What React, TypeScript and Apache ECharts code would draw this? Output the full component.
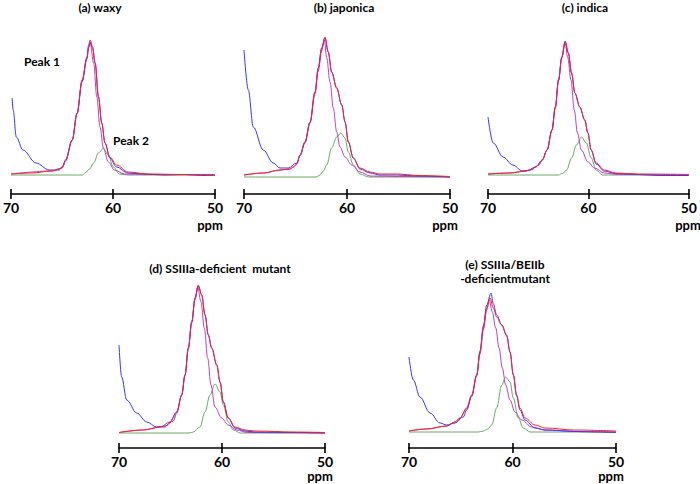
import React, { useEffect, useRef } from "react";
import * as echarts from "echarts";

// ---- data: [ppm, intensity] ----
const aBlue = [[69.9,77],[69.8,65],[69.49,38],[68.84,25],[67.56,12],[66.26,5],[65.3,5],[64.9,9],[64.66,14],[64.01,35],[63.53,62],[63.04,94],[62.56,117],[62.4,128],[62.24,133],[62.01,127],[61.76,112],[61.43,78],[61.11,52],[60.79,32],[60.31,17],[59.66,8],[58.53,2],[57,1],[55,0],[53,0.5],[51,-0.5],[50,0]];
const aRed = [[70,1],[68,2],[66,4],[65,7],[64.66,15],[64.01,35],[63.53,62],[63.04,95],[62.56,118],[62.4,130],[62.24,135],[62.01,128],[61.76,112],[61.43,78],[61.11,52],[60.79,32],[60.31,18],[59.66,10],[58.53,3],[56.6,1],[53,0.5],[50,0]];
const aMagenta = [[70,1],[66,4],[65,7],[64.66,15],[64.01,35],[63.53,61],[63.04,93],[62.56,116],[62.4,127],[62.24,132],[61.91,112],[61.59,78],[61.28,48],[60.95,27],[60.46,13],[59.86,5],[58.89,1],[56,0.5],[50,0]];
const aGreen = [[70,0],[63,0],[62.75,2],[62.3,6],[61.91,12],[61.43,22],[60.95,26.7],[60.46,20],[59.98,8],[59.37,1],[58.5,0],[50,0]];

const bBlue = [[70,127],[69.58,87],[69.1,50],[68.13,27],[67.16,14],[66.5,9],[65.7,9],[64.88,14],[64.56,22],[64.08,35],[63.59,55],[63.11,85],[62.79,109],[62.46,129],[62.14,139],[61.82,125],[61.49,105],[61.0,89],[60.51,72],[60.19,55],[59.87,35],[59.39,19],[58.74,8],[57.77,4],[56.8,2],[55.2,2],[53,1],[50,0]];
const bRed = [[70,2],[68.1,4],[66.5,7],[65.53,8],[65.21,10],[64.88,13],[64.56,22],[64.08,35],[63.59,55],[63.11,85],[62.79,109],[62.46,129],[62.14,140],[61.82,125],[61.49,105],[61.0,89],[60.51,72],[60.19,55],[59.87,35],[59.39,19],[58.74,9],[57.77,5],[56.8,3],[55.2,3],[53,1.5],[50,0.5]];
const bMagenta = [[70,2],[68.1,4],[66.5,7],[65.53,8],[65.21,10],[64.88,13],[64.56,21],[64.08,34],[63.59,54],[63.11,83],[62.79,106],[62.46,126],[62.2,137],[61.97,119],[61.65,95],[61.33,69],[61.0,45],[60.68,30],[60.19,20],[59.54,12],[58.74,5],[57.77,1],[55,0.5],[50,0]];
const bGreen = [[70,0],[63,0],[62.62,2],[62.3,6],[61.97,12],[61.49,29],[61.0,40],[60.61,44],[60.19,39],[59.87,25],[59.39,12],[58.74,3],[57.9,0],[50,0]];

const cBlue = [[70,58],[69.48,32],[68.5,18],[67.53,10],[66.56,4],[65.74,5],[64.93,10],[64.6,15],[64.12,25],[63.63,45],[63.3,68],[62.98,95],[62.65,118],[62.32,134],[62.0,122],[61.68,102],[61.35,82],[60.86,68],[60.37,55],[60.05,42],[59.73,25],[59.24,11],[58.42,4],[57.29,1.5],[55,0.5],[53,-0.5],[50,-0.5]];
const cRed = [[70,1],[67.85,2],[66.2,4],[65.9,5],[65.25,8],[64.6,15],[64.12,25],[63.63,45],[63.3,68],[62.98,95],[62.65,118],[62.32,133],[62.0,122],[61.68,102],[61.35,82],[60.86,68],[60.37,55],[60.05,42],[59.73,25],[59.24,12],[58.42,5],[57.29,2],[55,1],[50,0.5]];
const cMagenta = [[70,1],[67.85,2],[66.2,4],[65.25,8],[64.6,15],[64.12,25],[63.63,45],[63.3,67],[62.98,94],[62.65,117],[62.32,132],[62.07,118],[61.74,95],[61.41,65],[61.09,42],[60.7,25],[60.05,13],[59.4,7],[58.42,2],[57,0.5],[50,0]];
const cGreen = [[70,0],[63,0],[62.6,1.5],[62.17,5],[61.68,17],[61.19,30],[60.7,38],[60.21,32],[59.73,17],[59.24,5],[58.6,0],[50,0]];

const dBlue = [[70,88],[69.74,56],[69.25,33],[68.28,20],[67.31,11],[66.34,6],[65.53,7],[64.73,12],[64.4,20],[63.91,38],[63.59,58],[63.27,85],[62.94,111],[62.62,135],[62.3,147],[61.97,138],[61.65,118],[61.33,98],[61.0,85],[60.51,68],[60.19,51],[59.87,31],[59.39,15],[58.74,5],[57.77,2],[56.8,1],[53,0.5],[50,0]];
const dRed = [[70,0.5],[67.64,3],[66.0,6],[65.53,6],[65.05,11],[64.4,21],[63.91,38],[63.59,58],[63.27,85],[62.94,111],[62.62,135],[62.3,148],[61.97,138],[61.65,118],[61.33,98],[61.0,85],[60.51,68],[60.19,51],[59.87,31],[59.39,15],[58.74,6],[57.77,3],[56.8,2],[53,1],[50,0.5]];
const dMagenta = [[70,0.5],[67.64,3],[66,6],[65.05,11],[64.4,21],[63.91,38],[63.59,58],[63.27,84],[62.94,110],[62.62,133],[62.36,146],[62.04,131],[61.72,105],[61.39,75],[61.07,48],[60.68,26],[60.03,15],[59.39,8],[58.57,3],[57.5,0.5],[50,0]];
const dGreen = [[70,0],[63.2,0],[62.79,1],[62.14,6],[61.65,21],[61.17,38],[60.68,49],[60.19,41],[59.87,28],[59.39,11],[58.9,3],[58.2,0],[50,0]];

const eBlue = [[70,75],[69.58,52],[68.94,35],[67.97,19],[67.0,9],[66.36,7],[65.56,9],[64.75,15],[64.43,22],[63.94,36],[63.46,57],[63.14,81],[62.82,106],[62.49,127],[62.08,139],[61.85,128],[61.53,117],[61.04,107],[60.56,96],[60.24,80],[59.92,57],[59.6,36],[59.28,22],[58.79,12],[57.83,4],[56.86,2],[54,0.5],[52,0],[50,-0.5]];
const eRed = [[70,1],[68.3,3],[66.36,6],[65.56,10],[65.07,14],[64.43,24],[63.94,37],[63.46,57],[63.14,80],[62.82,104],[62.49,124],[62.17,134],[61.85,124],[61.53,115],[61.04,107],[60.56,97],[60.24,80],[59.92,57],[59.6,37],[59.28,24],[58.79,14],[57.83,7],[56.86,4],[54,2],[50,1]];
const eMagenta = [[70,1],[68.3,3],[66.36,6],[65.56,10],[65.07,14],[64.43,23],[63.94,36],[63.46,56],[63.14,78],[62.82,102],[62.49,122],[62.24,132],[61.95,120],[61.62,104],[61.3,84],[60.98,64],[60.66,47],[60.24,32],[59.76,20],[59.11,12],[58.14,5],[56.86,2],[53,0.5],[50,0]];
const eGreen = [[70,0],[63.3,0],[62.82,1],[62.4,3],[62.01,7],[61.53,24],[61.04,47],[60.66,55],[60.24,50],[59.92,34],[59.44,14],[58.96,4],[58.3,0],[50,0]];

const panelTitles = [["(a) waxy"], ["(b) japonica"], ["(c) indica"], ["(d) SSIIIa-deficient  mutant"], ["(e) SSIIIa/BEIIb", "-deficientmutant"]];
const tickLabels = [70, 60, 50];
const xUnit = "ppm";
const peakLabels = ["Peak 1", "Peak 2"];

const panelData = [
  { blue: aBlue, red: aRed, magenta: aMagenta, green: aGreen },
  { blue: bBlue, red: bRed, magenta: bMagenta, green: bGreen },
  { blue: cBlue, red: cRed, magenta: cMagenta, green: cGreen },
  { blue: dBlue, red: dRed, magenta: dMagenta, green: dGreen },
  { blue: eBlue, red: eRed, magenta: eMagenta, green: eGreen },
];

// layout (pixels)
const layout = [
  { left: 8, width: 207, base: 175, axisY: 194, titleX: 100, titleY: 7, unitY: 225 },
  { left: 244, width: 206, base: 177, axisY: 194, titleX: 344, titleY: 7, unitY: 225 },
  { left: 488, width: 205, base: 175, axisY: 194, titleX: 585, titleY: 7, unitY: 225 },
  { left: 119, width: 206, base: 433, axisY: 448, titleX: 220, titleY: 268, unitY: 476 },
  { left: 409, width: 207, base: 432, axisY: 448, titleX: 505, titleY: 264, unitY: 476 },
];

const FONT = "Lato, 'Open Sans', sans-serif";
const COLORS = { blue: "#3535ff", red: "#ff2020", magenta: "#c43cc4", green: "#68a868" };
const H = 160;

export default function App() {
  const ref = useRef<HTMLDivElement>(null);
  useEffect(() => {
    if (!ref.current) return;
    const chart = echarts.init(ref.current, undefined, { renderer: "svg" });
    const grid: any[] = [];
    const xAxis: any[] = [];
    const yAxis: any[] = [];
    const series: any[] = [];
    const graphic: any[] = [];
    layout.forEach((l, i) => {
      grid.push({ left: l.left, width: l.width, top: l.base - H, height: H });
      const off = l.axisY - l.base;
      const common = {
        type: "value", gridIndex: i, min: 50, max: 70, interval: 10, inverse: true,
        position: "bottom", offset: off, splitLine: { show: false },
      };
      xAxis.push({
        ...common,
        axisLine: { show: true, onZero: false, lineStyle: { color: "#000", width: 1.6 } },
        axisTick: { show: true, length: 5, lineStyle: { color: "#000", width: 1.6 } },
        axisLabel: {
          show: true, margin: 6, color: "#000", fontSize: 14, fontWeight: "bold", fontFamily: FONT,
          formatter: (v: number) => (tickLabels.includes(v) ? String(v) : ""),
        },
      });
      xAxis.push({
        ...common,
        axisLine: { show: false, onZero: false },
        axisTick: { show: true, inside: true, length: 5, lineStyle: { color: "#000", width: 1.6 } },
        axisLabel: { show: false },
      });
      yAxis.push({ type: "value", gridIndex: i, min: 0, max: H, show: false });
      const d = panelData[i];
      (["green", "magenta", "blue", "red"] as const).forEach((k) => {
        series.push({
          type: "line", xAxisIndex: i * 2, yAxisIndex: i, data: d[k], showSymbol: false,
          smooth: 0.35, smoothMonotone: "x", clip: false,
          lineStyle: { color: COLORS[k], width: 1 }, z: k === "red" ? 4 : k === "blue" ? 3 : 2,
        });
      });
      panelTitles[i].forEach((t, j) => {
        graphic.push({
          type: "text", x: l.titleX, y: l.titleY + j * 14,
          style: { text: t, align: "center", verticalAlign: "middle", fontSize: 12, lineHeight: 12, fontWeight: "bold", fontFamily: FONT, fill: "#000" },
        });
      });
      graphic.push({
        type: "text", x: l.left + l.width - 5, y: l.unitY,
        style: { text: xUnit, align: "center", verticalAlign: "middle", fontSize: 13, fontWeight: "bold", fontFamily: FONT, fill: "#000" },
      });
    });
    graphic.push({
      type: "text", x: 24, y: 61,
      style: { text: peakLabels[0], align: "left", verticalAlign: "middle", fontSize: 12, fontWeight: "bold", fontFamily: FONT, fill: "#000" },
    });
    graphic.push({
      type: "text", x: 113, y: 140,
      style: { text: peakLabels[1], align: "left", verticalAlign: "middle", fontSize: 12, fontWeight: "bold", fontFamily: FONT, fill: "#000" },
    });
    chart.setOption({ animation: false, backgroundColor: "#fff", grid, xAxis, yAxis, series, graphic });
    return () => chart.dispose();
  }, []);
  return <div ref={ref} style={{ position: "fixed", left: 0, top: 0, width: 700, height: 484 }} />;
}
